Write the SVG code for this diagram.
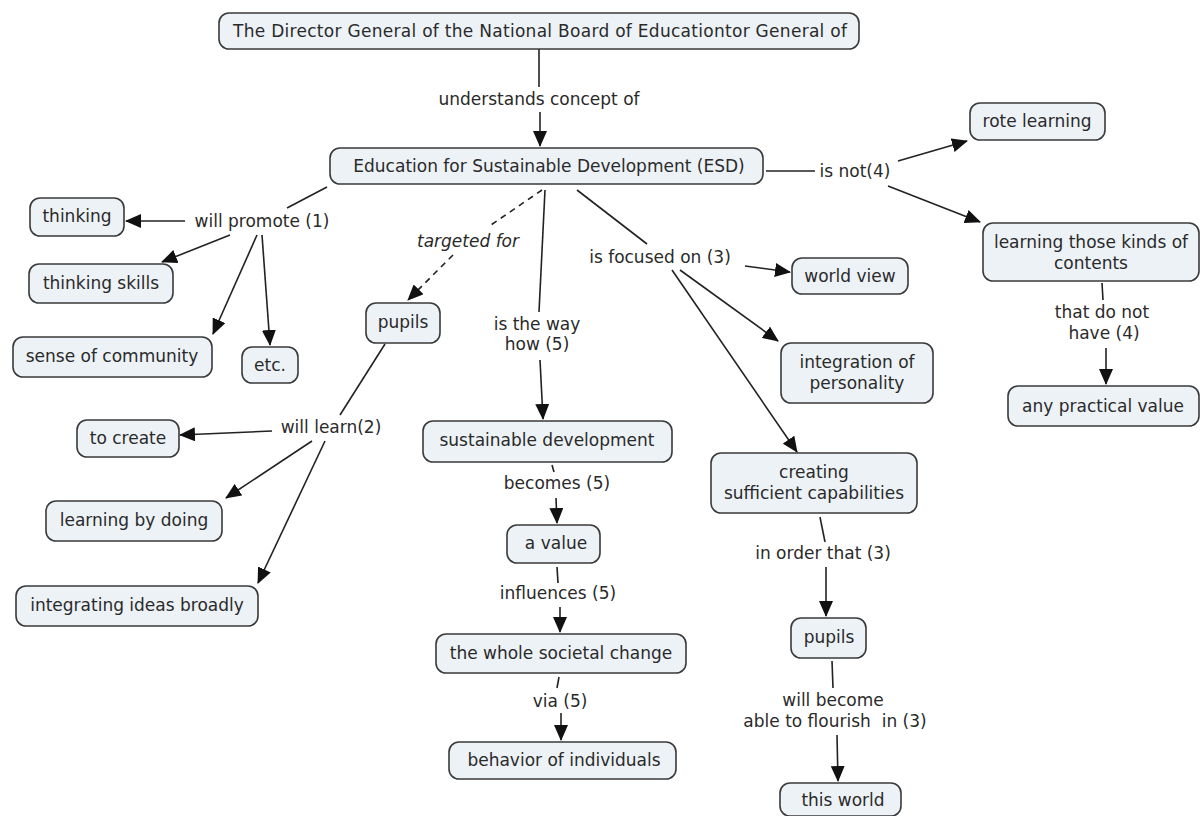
<svg xmlns="http://www.w3.org/2000/svg" width="1200" height="816" viewBox="0 0 1200 816">
<defs>
<marker id="ah" markerUnits="userSpaceOnUse" markerWidth="16" markerHeight="14" refX="15" refY="7" orient="auto">
<path d="M0,0 L16,7 L0,14 Z" fill="#111"/>
</marker>
<style>
.n rect{fill:#edf2f7;stroke:#3a3a3a;stroke-width:1.6}
text{font-family:"DejaVu Sans",Verdana,sans-serif;font-size:17px;fill:#2a2a2a;text-anchor:middle}
.c line{stroke:#222;stroke-width:1.6}
.c .a{marker-end:url(#ah)}
.c .d{stroke-dasharray:6,5}
.it{font-style:italic}
.pre{white-space:pre}
</style>
</defs>
<rect width="1200" height="816" fill="#fff"/>
<g class="c" id="connectors">
<line x1="539" y1="49" x2="539" y2="87"/>
<line class="a" x1="540" y1="112" x2="540" y2="146"/>
<line x1="766" y1="171" x2="815" y2="171"/>
<line class="a" x1="898" y1="161" x2="967" y2="141"/>
<line class="a" x1="888" y1="186" x2="980" y2="222"/>
<line x1="1102" y1="283" x2="1103" y2="300"/>
<line class="a" x1="1106" y1="348" x2="1106" y2="384"/>
<line x1="327" y1="187" x2="287" y2="208"/>
<line class="a" x1="185" y1="221" x2="126" y2="221"/>
<line class="a" x1="230" y1="235" x2="162" y2="262"/>
<line class="a" x1="257" y1="235" x2="213" y2="334"/>
<line class="a" x1="262" y1="235" x2="270" y2="345"/>
<line class="d" x1="542" y1="190" x2="488" y2="227"/>
<line class="a d" x1="453" y1="255" x2="408" y2="300"/>
<line x1="385" y1="344" x2="340" y2="415"/>
<line class="a" x1="272" y1="431" x2="180" y2="435"/>
<line class="a" x1="312" y1="441" x2="226" y2="498"/>
<line class="a" x1="325" y1="441" x2="258" y2="583"/>
<line x1="545" y1="190" x2="539" y2="312"/>
<line class="a" x1="540" y1="360" x2="543" y2="419"/>
<line x1="577" y1="190" x2="647" y2="244"/>
<line class="a" x1="745" y1="266" x2="790" y2="272"/>
<line class="a" x1="680" y1="270" x2="778" y2="341"/>
<line class="a" x1="672" y1="270" x2="797" y2="452"/>
<line x1="552" y1="465" x2="554" y2="472"/>
<line class="a" x1="556" y1="498" x2="557" y2="523"/>
<line x1="557" y1="567" x2="558" y2="583"/>
<line class="a" x1="560" y1="607" x2="560" y2="632"/>
<line x1="559" y1="677" x2="557" y2="688"/>
<line class="a" x1="561" y1="713" x2="561" y2="740"/>
<line x1="820" y1="517" x2="825" y2="542"/>
<line class="a" x1="826" y1="567" x2="826" y2="616"/>
<line x1="832" y1="661" x2="833" y2="688"/>
<line class="a" x1="837" y1="735" x2="838" y2="781"/>
</g>
<g id="labels">
<text x="539" y="105">understands concept of</text>
<text x="855" y="177">is not(4)</text>
<text x="1102" y="318">that do not</text>
<text x="1104" y="339">have (4)</text>
<text x="262" y="227">will promote (1)</text>
<text class="it" x="468" y="247">targeted for</text>
<text x="331" y="433">will learn(2)</text>
<text x="537" y="330">is the way</text>
<text x="537" y="350">how (5)</text>
<text x="660" y="263">is focused on (3)</text>
<text x="557" y="489">becomes (5)</text>
<text x="558" y="599">influences (5)</text>
<text x="560" y="707">via (5)</text>
<text x="823" y="559">in order that (3)</text>
<text x="833" y="706">will become</text>
<text class="pre" x="835" y="727">able to flourish  in (3)</text>
</g>
<g class="n" id="n-director"><rect x="219" y="13" width="640" height="36" rx="10"/><text x="540" y="37" textLength="614" lengthAdjust="spacing">The Director General of the National Board of Educationtor General of</text></g>
<g class="n" id="n-esd"><rect x="330" y="148" width="433" height="36" rx="10"/><text x="549" y="172">Education for Sustainable Development (ESD)</text></g>
<g class="n" id="n-rote"><rect x="970" y="103" width="135" height="37" rx="10"/><text x="1037" y="127">rote learning</text></g>
<g class="n" id="n-learning-those"><rect x="983" y="223" width="216" height="58" rx="10"/><text x="1091" y="248">learning those kinds of</text><text x="1091" y="269">contents</text></g>
<g class="n" id="n-world-view"><rect x="792" y="258" width="116" height="36" rx="10"/><text x="850" y="282">world view</text></g>
<g class="n" id="n-integration"><rect x="781" y="343" width="152" height="60" rx="10"/><text x="857" y="368">integration of</text><text x="857" y="389">personality</text></g>
<g class="n" id="n-practical"><rect x="1008" y="386" width="191" height="40" rx="10"/><text x="1103" y="412">any practical value</text></g>
<g class="n" id="n-thinking"><rect x="30" y="198" width="94" height="38" rx="10"/><text x="77" y="222">thinking</text></g>
<g class="n" id="n-thinking-skills"><rect x="29" y="264" width="144" height="39" rx="10"/><text x="101" y="289">thinking skills</text></g>
<g class="n" id="n-community"><rect x="13" y="337" width="199" height="40" rx="10"/><text x="112" y="362">sense of community</text></g>
<g class="n" id="n-etc"><rect x="242" y="347" width="56" height="36" rx="10"/><text x="270" y="371">etc.</text></g>
<g class="n" id="n-pupils1"><rect x="366" y="303" width="74" height="40" rx="10"/><text x="403" y="328">pupils</text></g>
<g class="n" id="n-to-create"><rect x="77" y="420" width="102" height="37" rx="10"/><text x="128" y="444">to create</text></g>
<g class="n" id="n-by-doing"><rect x="46" y="501" width="176" height="40" rx="10"/><text x="134" y="526">learning by doing</text></g>
<g class="n" id="n-integrating"><rect x="16" y="586" width="242" height="40" rx="10"/><text x="137" y="611">integrating ideas broadly</text></g>
<g class="n" id="n-sustainable"><rect x="423" y="421" width="249" height="41" rx="10"/><text x="547" y="446">sustainable development</text></g>
<g class="n" id="n-value"><rect x="507" y="525" width="93" height="38" rx="10"/><text x="556" y="549">a value</text></g>
<g class="n" id="n-societal"><rect x="436" y="634" width="250" height="39" rx="10"/><text x="561" y="659">the whole societal change</text></g>
<g class="n" id="n-behavior"><rect x="449" y="742" width="227" height="37" rx="10"/><text x="564" y="766">behavior of individuals</text></g>
<g class="n" id="n-creating"><rect x="711" y="453" width="206" height="60" rx="10"/><text x="814" y="478">creating</text><text x="814" y="499">sufficient capabilities</text></g>
<g class="n" id="n-pupils2"><rect x="791" y="618" width="75" height="40" rx="10"/><text x="829" y="643">pupils</text></g>
<g class="n" id="n-world"><rect x="780" y="783" width="121" height="33" rx="10"/><text x="843" y="806">this world</text></g>
</svg>
